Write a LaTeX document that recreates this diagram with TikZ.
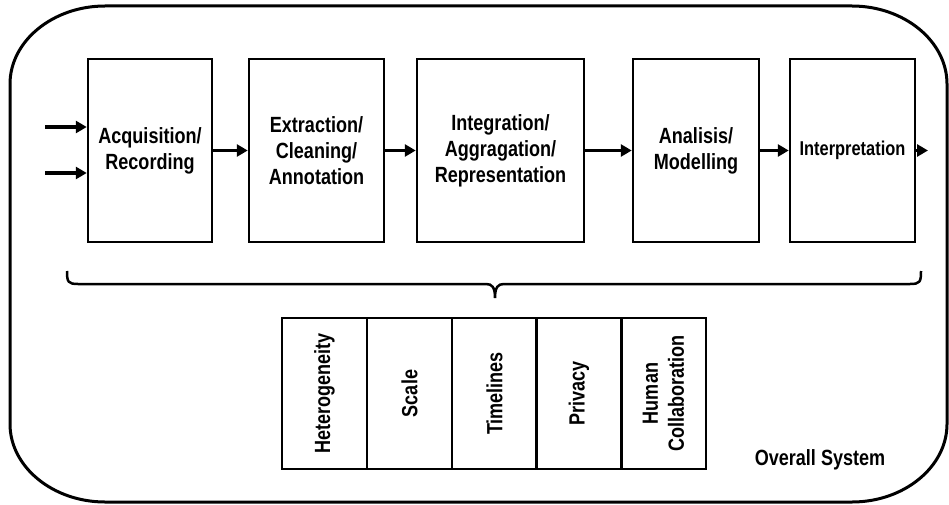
\documentclass[tikz,border=0pt]{standalone}
\usepackage{fontspec}
\setmainfont{Liberation Sans}[FakeStretch=0.82]
\usetikzlibrary{arrows.meta}

\begin{document}
\begin{tikzpicture}[x=1pt,y=-1pt,
        stage/.style={draw,line width=2.5pt,minimum height=183pt,inner sep=0pt,align=center,
            font=\bfseries\fontsize{22}{26}\selectfont},
        issue/.style={draw,line width=2.5pt,rotate=90,minimum width=151pt,minimum height=85pt,
            inner sep=0pt,align=center,font=\bfseries\fontsize{22}{26}\selectfont},
        flow/.style={-{Triangle[length=11pt,width=12pt]},line width=3.5pt}]
        \useasboundingbox (0,0) rectangle (949,505);

        % overall system frame
        \draw[line width=3pt] (10,84) .. controls (10,41) and (53,6) .. (105,6) -- (852,6)
            .. controls (904,6) and (947,41) .. (947,84) -- (947,424)
            .. controls (947,467) and (904,502) .. (852,502) -- (105,502)
            .. controls (53,502) and (10,467) .. (10,424) -- cycle;
        \node[font=\bfseries\fontsize{22}{26}\selectfont] (overall) at (820,460) {Overall System};

        \node[stage,minimum width=124pt] (acq) at (150,150.5) {Acquisition/\\Recording};
        \node[stage,minimum width=135pt] (ext) at (316.5,150.5) {Extraction/\\Cleaning/\\Annotation};
        \node[stage,minimum width=167pt] (integ) at (500.5,150.5) {Integration/\\Aggragation/\\Representation};
        \node[stage,minimum width=126pt] (anal) at (696,150.5) {Analisis/\\Modelling};
        \node[stage,minimum width=125pt,font=\bfseries\fontsize{20}{24}\selectfont] (interp) at (852.5,150.5) {Interpretation};

        \coordinate (in1) at (45,127);
        \coordinate (in2) at (45,173);
        \coordinate (out) at (928,150.5);

        \draw[flow] (in1) -- (in1 -| acq.west);
        \draw[flow] (in2) -- (in2 -| acq.west);
        \draw[flow] (acq) -- (ext);
        \draw[flow] (ext) -- (integ);
        \draw[flow] (integ) -- (anal);
        \draw[flow] (anal) -- (interp);
        \draw[flow] (interp) -- (out);

        % brace over the whole chain
        \coordinate (braceL) at (67,271);
        \coordinate (braceR) at (921,271);
        \coordinate (braceTip) at (495,298);
        \draw[line width=2.5pt] (braceL) .. controls (67,282) and (68,284) .. (78,284) -- (486,284)
            .. controls (492,284) and (495,287) .. (braceTip)
            .. controls (495,287) and (498,284) .. (504,284) -- (910,284)
            .. controls (920,284) and (921,282) .. (braceR);

        \node[issue] (hetero) at (324.5,393.5) {Heterogeneity};
        \node[issue] (scale) at (409.5,393.5) {Scale};
        \node[issue] (time) at (494.5,393.5) {Timelines};
        \node[issue] (priv) at (579,393.5) {Privacy};
        \node[issue] (human) at (663.5,393.5) {Human\\Collaboration};
    \end{tikzpicture}
\end{document}
